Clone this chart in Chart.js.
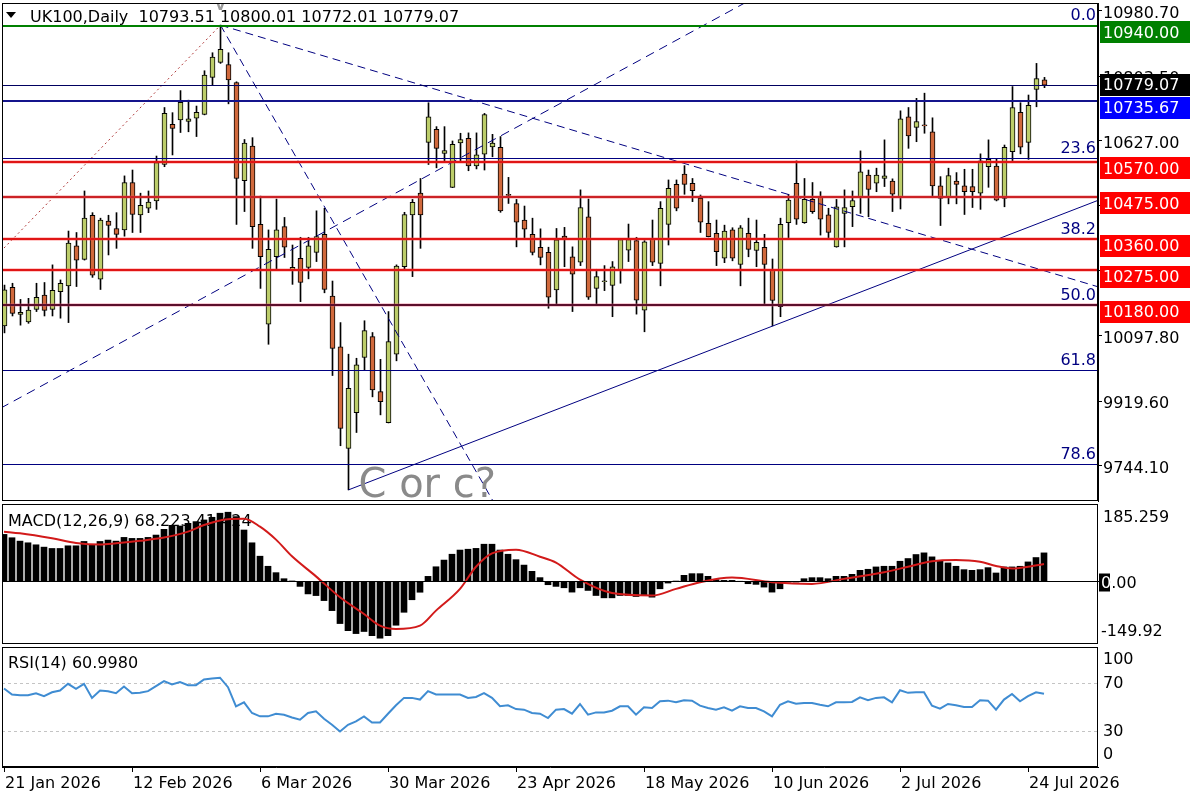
<!DOCTYPE html>
<html>
<head>
<meta charset="utf-8">
<title>UK100, Daily</title>
<script src="https://cdn.jsdelivr.net/npm/chart.js@4.4.1/dist/chart.umd.min.js"></script>
<style>
  html, body { margin: 0; padding: 0; background: #fff; }
  #wrap { position: relative; width: 1200px; height: 800px; overflow: hidden; background: #fff; }
  canvas { position: absolute; left: 0; }
</style>
</head>
<body>
<div id="wrap">
  <canvas id="price" width="1200" height="503" style="top:0px"></canvas>
  <canvas id="macd" width="1200" height="143" style="top:503px"></canvas>
  <canvas id="rsi" width="1200" height="154" style="top:646px"></canvas>
</div>
<script>
// daily candles, 21 Jan 2026 .. 24 Jul 2026 (one entry per trading day)
var opens = [10124,10229,10155,10135,10169,10208,10169,10217,10233,10342,10305,10425,10251,10409,10389,10385,10514,10426,10444,10464,
  10563,10672,10684,10680,10689,10699,10800,10841,10835,10786,10519,10613,10400,10129,10312,10394,10276,10308,10283,10324,
  10373,10205,10067,9791,9888,10038,10095,9945,9861,10047,10285,10426,10485,10623,10659,10593,10501,10622,10634,10559,
  10591,10611,10610,10481,10457,10412,10373,10338,10324,10222,10368,10312,10297,10421,10226,10244,10234,10276,10330,10356,
  10167,10360,10294,10400,10509,10537,10512,10471,10403,10376,10308,10385,10291,10376,10329,10338,10278,10176,10405,10512,
  10405,10468,10475,10426,10339,10430,10448,10475,10534,10512,10525,10518,10475,10693,10664,10669,10652,10505,10475,10518,
  10505,10503,10485,10557,10559,10471,10598,10705,10623,10767,10793.51];
var highs = [10235,10240,10196,10199,10240,10242,10290,10249,10382,10378,10491,10432,10417,10425,10432,10532,10548,10485,10491,10586,
  10718,10704,10764,10738,10722,10818,10867,10942,10867,10788,10631,10636,10477,10385,10469,10419,10344,10365,10365,10437,
  10444,10246,10133,10047,10036,10138,10106,10033,10163,10290,10433,10468,10525,10731,10666,10666,10627,10648,10649,10649,
  10702,10645,10639,10528,10468,10450,10417,10388,10338,10389,10392,10339,10494,10469,10278,10288,10299,10362,10401,10365,
  10356,10412,10462,10521,10521,10560,10525,10480,10462,10412,10398,10391,10397,10417,10412,10373,10306,10417,10482,10573,
  10525,10514,10489,10444,10468,10494,10491,10600,10548,10553,10630,10524,10709,10718,10743,10757,10690,10530,10553,10541,
  10550,10550,10592,10630,10577,10616,10775,10731,10752,10838,10800.01];
var lows = [10105,10151,10126,10131,10163,10151,10151,10145,10133,10231,10303,10256,10223,10317,10335,10368,10378,10378,10432,10441,
  10557,10589,10650,10652,10639,10698,10779,10838,10728,10400,10435,10335,10226,10074,10278,10310,10237,10190,10252,10299,
  10214,9989,9798,9678,9834,10004,9931,9882,9860,10029,10278,10258,10335,10563,10554,10568,10500,10572,10546,10551,
  10548,10584,10433,10457,10339,10359,10317,10290,10172,10181,10285,10163,10288,10196,10181,10220,10149,10240,10299,10156,
  10108,10288,10233,10344,10437,10482,10462,10378,10366,10288,10296,10301,10233,10312,10285,10181,10124,10149,10364,10400,
  10403,10430,10371,10360,10338,10339,10394,10430,10421,10489,10503,10435,10442,10607,10625,10648,10475,10397,10456,10456,
  10427,10446,10441,10501,10464,10448,10571,10592,10577,10720,10772.01];
var closes = [10222,10158,10161,10167,10202,10166,10221,10240,10349,10303,10417,10262,10412,10397,10373,10514,10427,10452,10461,10568,
  10702,10661,10732,10687,10705,10806,10855,10876,10793,10525,10621,10394,10312,10332,10385,10338,10283,10242,10342,10367,
  10223,10063,9845,9954,10018,10111,9950,9918,10081,10287,10427,10460,10426,10693,10607,10601,10618,10631,10559,10589,
  10699,10621,10437,10479,10406,10387,10324,10310,10202,10358,10362,10265,10446,10202,10258,10245,10285,10359,10359,10194,
  10353,10297,10444,10498,10444,10509,10492,10406,10367,10326,10382,10308,10391,10332,10351,10291,10193,10400,10466,10414,
  10468,10435,10414,10378,10448,10446,10465,10543,10495,10534,10532,10482,10687,10641,10680,10668,10505,10471,10533,10509,
  10489,10489,10573,10577,10466,10610,10718,10610,10724,10797,10779.07];

// MACD(12,26,9): main value per day (histogram) and signal line read at these days
var macdMain = [112.5,104.5,96.4,92.4,87.6,82.0,78.8,78.8,85.2,85.2,95.6,86.8,95.6,98.9,96.4,105.3,102.9,102.9,105.3,110.9,
  124.6,134.2,132.6,139.0,143.1,147.1,153.5,163.2,165.6,155.1,123.0,92.4,60.3,36.2,20.9,6.4,1.0,-12,-30,-34,
  -46,-70,-101,-118,-125,-120,-130,-136,-130,-105,-74,-44,-26,12,35,51,65,75,77,79,
  89,89,75,65,52,39,24,9,-8,-12,-15.3,-25.7,-15.3,-21.7,-33.8,-39.4,-39.4,-33.8,-33.8,-36.2,
  -33.8,-37.8,-17.7,-4,0.8,14.5,18.5,18.5,12.1,4,2.4,2.4,0.3,-5.6,-7.2,-13.7,-25.7,-17.7,-1.6,-1.6,
  6.4,8.9,8.9,6.4,12.1,12.1,16.9,26.5,29,34.6,36.2,36.2,48.2,54.7,64.3,68.3,58.7,49,44.2,36.2,
  28.1,26.5,28.1,32.9,20.1,34.6,34.6,36.2,46.6,57.1,68.223];
var signalDay = [0,2,6,9,12,14,17,20,23,25,28,30,32,34,36,39,42,45,47,49,52,54,57,59,61,64,67,69,72,76,81,84,87,91,96,101,105,110,113,116,119,122,124,126,128,130];
var signalVal = [119,115,103,92,88,91,97,105,119,135,149,150,131,100,60,12,-38,-78,-106,-114,-106,-70,-18,35,67,76,59,45,4,-28,-34,-18,-2,9,-2,-6,6,22,35,48,51,47,37,31,35,41.424];

// RSI(14)
var rsiVals = [65.4,60.4,59.8,59.8,61.5,59,62.3,63.7,69.3,65.1,69.3,57.6,63.7,63.2,61.5,67.1,61.5,61.8,63.2,67.4,
  71.6,68.8,70.7,68.2,68.2,72.9,73.8,74.4,66.5,50.6,53.9,45,42.2,42.2,44.4,43.6,41.3,39.4,45,46.4,
  40.2,35.2,29.6,35.2,38,42.2,37.1,37.1,44.4,51.4,57.6,57.6,56.2,63.2,60.4,60.4,60.4,60.4,57.6,58.4,
  61.5,57.6,50.6,51.4,48.3,47.8,45,44.4,40.8,47.8,48.3,44.4,52.5,43.6,45.5,45.5,46.9,50.6,50.6,43.6,
  49.7,49.2,54.8,55.3,53.9,55.6,55.3,51.1,49.2,47.8,49.7,46.9,50.6,49.2,49.2,46.4,42.2,51.9,54.8,52.8,
  53.4,53.4,51.9,50.6,53.9,53.9,54.2,58.1,55.6,57.6,58.1,53.9,64,61.8,62.3,62.3,51.1,48.6,52.5,51.4,
  50,50,55.6,55.3,47.8,56.2,60.9,54.8,59,62.3,60.998];

// axis ticks
var dateTickDay = [0,16,32,48,64,80,96,112,128];
var dateTickText = ['21 Jan 2026','12 Feb 2026','6 Mar 2026','30 Mar 2026','23 Apr 2026','18 May 2026','10 Jun 2026','2 Jul 2026','24 Jul 2026'];
var priceTicks = [10980.70,10803.50,10627.00,10450.40,10273.90,10097.80,9919.60,9744.10];
var priceTicksHidden = [10450.40,10273.90];

// drawn objects on the price chart
var levelPrices = [10940.00,10735.67,10570.00,10475.00,10360.00,10275.00,10180.00];
var fibNames = ['0.0','23.6','38.2','50.0','61.8','78.6'];
var fibPrices = [10942,10580,10361,10182,10003,9748];
var bidPrice = 10779.07;
var lineRedDotted = [[-0.5,10326],[27,10942]];
var lineSteep = [[27,10942],[61,9650]];
var lineShallow = [[27,10942],[136.75,10230]];
var lineRising = [[-0.5,9900],[92.5,11002]];
var lineSupport = [[43,9678],[136.75,10466]];
var waveNote = [44.25,9658,'C or c?'];
var waveMark = [27,10983,'v'];

// ---- styles ----
var FONT = "'DejaVu Sans', Verdana, sans-serif";
var BULL = '#bccd6a', BEAR = '#d0693c';
var levelColors = ['#008000','#14148c','#e01515','#cc2226','#e01515','#e01515','#5c0f2c'];
var levelHalo = [null,null,'rgba(255,60,60,0.28)','rgba(230,80,80,0.28)','rgba(255,60,60,0.28)','rgba(255,60,60,0.28)','rgba(230,90,120,0.3)'];
var boxColors = ['#008000','#0000ff','#ff0000','#ff0000','#ff0000','#ff0000','#ff0000'];

Chart.defaults.font.family = FONT;
Chart.defaults.font.size = 16;
Chart.defaults.color = '#000';
Chart.defaults.animation = false;

var X_MIN = (2 - 4.5) / 8, X_MAX = (1098 - 4.5) / 8;

function pts(arr) { return arr.map(function (p) { return {x: p[0], y: p[1]}; }); }
function trend(arr, color, dash) {
  return {type: 'line', data: pts(arr), borderColor: color, borderWidth: 1, borderDash: dash,
    pointRadius: 0, tension: 0, order: 0};
}
// keep the plot area where the layout padding puts it
function noLabelPadding(s) {
  s.paddingTop = 0; s.paddingBottom = 0; s.paddingLeft = 0; s.paddingRight = 0;
}

function frame(chart) {
  var a = chart.chartArea, ctx = chart.ctx;
  ctx.save();
  ctx.strokeStyle = '#000';
  ctx.lineWidth = 1;
  ctx.strokeRect(a.left + 0.5, a.top + 0.5, a.right - a.left - 1, a.bottom - a.top - 1);
  ctx.restore();
}

function hline(ctx, a, py, color, w, dash) {
  ctx.beginPath();
  ctx.setLineDash(dash || []);
  ctx.strokeStyle = color;
  ctx.lineWidth = w;
  var yy = w % 2 ? Math.round(py) + 0.5 : Math.round(py);
  ctx.moveTo(a.left, yy);
  ctx.lineTo(a.right, yy);
  ctx.stroke();
  ctx.setLineDash([]);
}

// ---- price chart ----
var wickData = [], bodyData = [], bodyColors = [];
for (var i = 0; i < opens.length; i++) {
  wickData.push({x: i, y: [lows[i], highs[i]]});
  bodyData.push({x: i, y: [opens[i], closes[i]]});
  bodyColors.push(closes[i] >= opens[i] ? BULL : BEAR);
}

var priceDecor = {
  id: 'priceDecor',
  afterDatasetsDraw: function (chart) {
    var ctx = chart.ctx, a = chart.chartArea, x = chart.scales.x, y = chart.scales.y;
    ctx.save();
    ctx.beginPath();
    ctx.rect(a.left, a.top, a.right - a.left, a.bottom - a.top);
    ctx.clip();
    fibPrices.forEach(function (p) { hline(ctx, a, y.getPixelForValue(p), '#000080', 1); });
    hline(ctx, a, y.getPixelForValue(bidPrice), '#000060', 1);
    levelPrices.forEach(function (p, k) {
      var py = y.getPixelForValue(p);
      if (levelHalo[k]) hline(ctx, a, py, levelHalo[k], 4);
      hline(ctx, a, py, levelColors[k], 2);
    });
    ctx.fillStyle = '#000080';
    ctx.font = '16px ' + FONT;
    ctx.textAlign = 'right';
    ctx.textBaseline = 'alphabetic';
    fibPrices.forEach(function (p, k) {
      ctx.fillText(fibNames[k], a.right - 2, y.getPixelForValue(p) - 5);
    });
    ctx.textAlign = 'left';
    ctx.fillStyle = '#8a8a8a';
    ctx.font = '40px ' + FONT;
    ctx.fillText(waveNote[2], x.getPixelForValue(waveNote[0]), y.getPixelForValue(waveNote[1]));
    ctx.font = 'bold 15px ' + FONT;
    ctx.fillStyle = '#9a9a9a';
    ctx.textAlign = 'center';
    ctx.fillText(waveMark[2], x.getPixelForValue(waveMark[0]), y.getPixelForValue(waveMark[1]));
    ctx.restore();
  },
  afterDraw: function (chart) {
    var ctx = chart.ctx, a = chart.chartArea, y = chart.scales.y;
    frame(chart);
    ctx.save();
    // header
    ctx.fillStyle = '#000';
    ctx.beginPath();
    ctx.moveTo(6, 12); ctx.lineTo(16, 12); ctx.lineTo(11, 18); ctx.closePath();
    ctx.fill();
    ctx.font = '16px ' + FONT;
    ctx.textBaseline = 'alphabetic';
    ctx.textAlign = 'left';
    ctx.fillText('UK100,Daily  ' + [opens, highs, lows, closes].map(function (s) {
      return s[s.length - 1].toFixed(2);
    }).join(' '), 30, 22);
    // price boxes on the right scale
    var boxes = levelPrices.map(function (p, k) { return {p: p, bg: boxColors[k], dy: 6.5}; });
    boxes.splice(1, 0, {p: bidPrice, bg: '#000000', dy: 0});
    boxes.forEach(function (b) {
      var cy = y.getPixelForValue(b.p) + b.dy;
      ctx.fillStyle = b.bg;
      ctx.fillRect(a.right + 2, Math.round(cy - 11), 90, 22);
      ctx.fillStyle = '#fff';
      ctx.textBaseline = 'middle';
      ctx.fillText(b.p.toFixed(2), a.right + 5, cy + 1);
    });
    ctx.restore();
  }
};

new Chart(document.getElementById('price'), {
  type: 'bar',
  data: {
    datasets: [
      trend(lineRedDotted, '#b03a3a', [2, 3]),
      trend(lineSteep, '#000080', [8, 5]),
      trend(lineShallow, '#000080', [8, 5]),
      trend(lineRising, '#000080', [9, 6]),
      trend(lineSupport, '#000080', []),
      {data: bodyData, backgroundColor: bodyColors, borderColor: '#000', borderWidth: 1,
        borderSkipped: false, barThickness: 5, minBarLength: 1, grouped: false, order: 1},
      {data: wickData, backgroundColor: '#000', borderWidth: 0, barThickness: 1, grouped: false, order: 2}
    ]
  },
  options: {
    responsive: false,
    devicePixelRatio: 1,
    events: [],
    layout: {padding: {left: 2, top: 3, right: 0, bottom: 2}},
    plugins: {legend: {display: false}, tooltip: {enabled: false}},
    scales: {
      x: {type: 'linear', display: false, min: X_MIN, max: X_MAX, offset: false},
      y: {
        position: 'right', min: 9647.7, max: 11002.3,
        afterBuildTicks: function (s) { s.ticks = priceTicks.map(function (v) { return {value: v}; }); },
        afterFit: function (s) { s.width = 102; noLabelPadding(s); },
        grid: {display: true, drawOnChartArea: false, drawTicks: true, tickLength: 4, color: '#000'},
        border: {display: true, color: '#000'},
        ticks: {
          autoSkip: false, padding: 1, labelOffset: 3, color: '#000',
          callback: function (v) { return priceTicksHidden.indexOf(v) >= 0 ? '' : v.toFixed(2); }
        }
      }
    }
  },
  plugins: [priceDecor]
});

// ---- MACD ----
var macdDecor = {
  id: 'macdDecor',
  beforeDatasetsDraw: function (chart) {
    var ctx = chart.ctx;
    ctx.save();
    ctx.font = '16px ' + FONT;
    ctx.fillStyle = '#000';
    ctx.textBaseline = 'alphabetic';
    ctx.fillText('MACD(12,26,9) ' + macdMain[macdMain.length - 1].toFixed(3) + ' ' +
      signalVal[signalVal.length - 1].toFixed(3), 8, 23);
    ctx.restore();
  },
  afterDraw: function (chart) {
    var ctx = chart.ctx, a = chart.chartArea, y = chart.scales.y;
    var z = Math.round(y.getPixelForValue(0)) + 0.5;
    ctx.save();
    ctx.strokeStyle = '#000';
    ctx.lineWidth = 1;
    ctx.beginPath(); ctx.moveTo(a.left, z); ctx.lineTo(a.right + 6, z); ctx.stroke();
    frame(chart);
    ctx.font = '16px ' + FONT;
    ctx.textBaseline = 'middle';
    ctx.fillStyle = '#000';
    ctx.fillText(y.max.toFixed(3), a.right + 5, a.top + 14);
    ctx.fillText(y.min.toFixed(2), a.right + 3, a.bottom - 12);
    ctx.fillRect(a.right + 1, z - 8, 11, 18);
    ctx.fillText('0.00', a.right + 3, z + 2);
    ctx.fillStyle = '#fff';
    ctx.fillText('0', a.right + 3, z + 2);
    ctx.restore();
  }
};

new Chart(document.getElementById('macd'), {
  type: 'bar',
  data: {
    datasets: [
      {type: 'line', data: signalDay.map(function (d, k) { return {x: d, y: signalVal[k]}; }),
        borderColor: '#d21a1a', borderWidth: 2, pointRadius: 0, cubicInterpolationMode: 'monotone', order: 0},
      {data: macdMain.map(function (v, k) { return {x: k, y: v}; }), backgroundColor: '#000',
        borderWidth: 0, barThickness: 6, grouped: false, order: 1}
    ]
  },
  options: {
    responsive: false,
    devicePixelRatio: 1,
    events: [],
    layout: {padding: {left: 2, top: 1, right: 102, bottom: 2}},
    plugins: {legend: {display: false}, tooltip: {enabled: false}},
    scales: {
      x: {type: 'linear', display: false, min: (2 - 4) / 8, max: (1098 - 4) / 8, offset: false},
      y: {display: false, min: -149.92, max: 185.259}
    }
  },
  plugins: [macdDecor]
});

// ---- RSI ----
var rsiDecor = {
  id: 'rsiDecor',
  beforeDatasetsDraw: function (chart) {
    var ctx = chart.ctx, a = chart.chartArea, y = chart.scales.y;
    ctx.save();
    [70, 30].forEach(function (v) { hline(ctx, a, y.getPixelForValue(v), '#c4c4c4', 1, [3, 3]); });
    ctx.restore();
  },
  afterDraw: function (chart) {
    var ctx = chart.ctx, a = chart.chartArea, y = chart.scales.y;
    frame(chart);
    ctx.save();
    ctx.font = '16px ' + FONT;
    ctx.fillStyle = '#000';
    ctx.textBaseline = 'alphabetic';
    ctx.fillText('RSI(14) ' + rsiVals[rsiVals.length - 1].toFixed(4), 8, 22);
    ctx.textBaseline = 'middle';
    ctx.fillText('100', a.right + 5, a.top + 13);
    ctx.fillText('70', a.right + 5, y.getPixelForValue(70) + 1);
    ctx.fillText('30', a.right + 5, y.getPixelForValue(30) + 1);
    ctx.fillText('0', a.right + 5, a.bottom - 12);
    ctx.restore();
  }
};

new Chart(document.getElementById('rsi'), {
  type: 'line',
  data: {
    datasets: [{data: rsiVals.map(function (v, k) { return {x: k, y: v}; }), borderColor: '#3f8cd2',
      borderWidth: 2, pointRadius: 0, tension: 0}]
  },
  options: {
    responsive: false,
    devicePixelRatio: 1,
    events: [],
    layout: {padding: {left: 2, top: 1, right: 102, bottom: 0}},
    plugins: {legend: {display: false}, tooltip: {enabled: false}},
    scales: {
      x: {
        type: 'linear', min: (2 - 4) / 8, max: (1098 - 4) / 8, offset: false,
        afterBuildTicks: function (s) { s.ticks = dateTickDay.map(function (v) { return {value: v}; }); },
        afterFit: function (s) { s.height = 33; noLabelPadding(s); },
        grid: {display: true, drawOnChartArea: false, drawTicks: true, tickLength: 5, color: '#000'},
        border: {display: true, color: '#000'},
        ticks: {
          autoSkip: false, maxRotation: 0, align: 'start', padding: 2, labelOffset: 1, color: '#000',
          callback: function (v) { return dateTickText[dateTickDay.indexOf(v)]; }
        }
      },
      y: {display: false, min: 0, max: 100}
    }
  },
  plugins: [rsiDecor]
});
</script>
</body>
</html>
